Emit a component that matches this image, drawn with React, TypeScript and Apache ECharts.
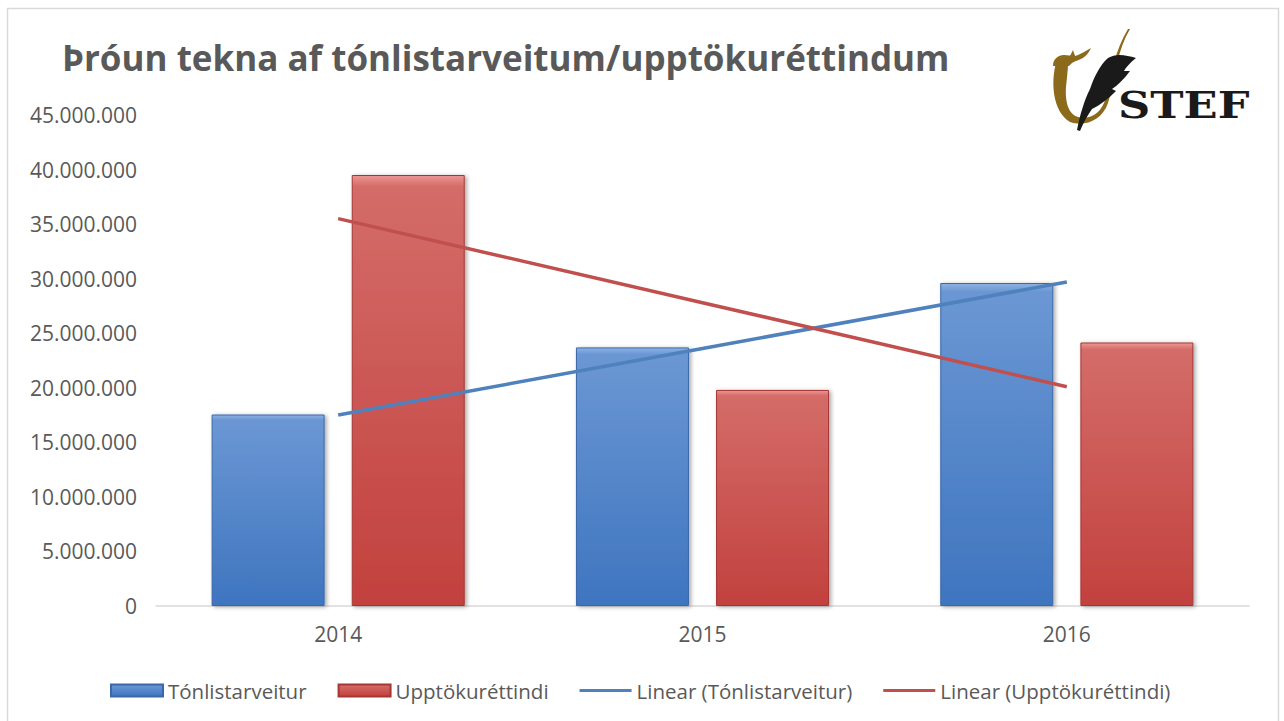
import React, { useEffect, useRef } from "react";
import * as echarts from "echarts";

const categories = ["2014", "2015", "2016"];
const tonlistarveitur = [17550000, 23700000, 29600000];
const upptokurettindi = [39500000, 19800000, 24150000];
const trendTonlist = [17500000, 23600000, 29700000];
const trendUpptoku = [35500000, 27800000, 20100000];
const seriesNames = [
  "Tónlistarveitur",
  "Upptökuréttindi",
  "Linear (Tónlistarveitur)",
  "Linear (Upptökuréttindi)",
];
const titleText = "Þróun tekna af tónlistarveitum/upptökuréttindum";

const FONT = "'Open Sans', 'Noto Sans', sans-serif";
const GRAY = "#595959";

function fmt(v: number): string {
  return String(v).replace(/\B(?=(\d{3})+(?!\d))/g, ".");
}

let registered = false;
function registerLogo() {
  if (registered) return;
  registered = true;
  echarts.graphic.registerShape(
    "stefU",
    echarts.graphic.extendPath(
      "M16 38 C11 56 12 86 30 97 C44 102 62 96 68 78 C72 66 74 52 77 38 C80 26 84 14 90 4 L88 4 C82 14 77 26 74 38 C71 52 69 66 64 78 C58 92 46 94 38 92 C28 89 25 76 26 62 C27 52 28 44 28 38 Z",
      {}
    )
  );
  echarts.graphic.registerShape(
    "stefHead",
    echarts.graphic.extendPath(
      "M13 41 C13 34 18 30 24 30 C30 30 34 32 38 30 C42 28 46 26 51 23 C49 28 45 32 41 34 C36 36 32 37 29 41 Z M30 31 L33 25 L35 31 Z",
      {}
    )
  );
  echarts.graphic.registerShape(
    "stefFeather",
    echarts.graphic.extendPath(
      "M37 105 C40 90 44 76 50 64 C54 52 60 40 68 33 C76 28 86 30 96 33 C90 38 86 42 84 46 L90 46 C84 54 78 60 72 64 L76 66 C68 74 60 80 52 84 C48 90 44 96 40 106 Z",
      {}
    )
  );
}

export default function App() {
  const ref = useRef<HTMLDivElement>(null);
  useEffect(() => {
    if (!ref.current) return;
    registerLogo();
    const chart = echarts.init(ref.current, null, { renderer: "svg" });
    const blueGrad = new echarts.graphic.LinearGradient(0, 0, 0, 1, [
      { offset: 0, color: "#8db2e3" },
      { offset: 0.025, color: "#6b97d4" },
      { offset: 1, color: "#3e75bf" },
    ]);
    const redGrad = new echarts.graphic.LinearGradient(0, 0, 0, 1, [
      { offset: 0, color: "#eb9794" },
      { offset: 0.025, color: "#d46c68" },
      { offset: 1, color: "#c2413e" },
    ]);
    chart.setOption({
      animation: false,
      backgroundColor: "#ffffff",
      title: {
        text: titleText,
        left: 57,
        top: 35,
        textStyle: {
          fontFamily: FONT,
          fontWeight: "bold",
          fontSize: 35,
          color: GRAY,
        },
      },
      grid: { left: 156, right: 35, top: 115, bottom: 115 },
      legend: {
        left: 105,
        bottom: 15,
        itemWidth: 52,
        itemHeight: 12,
        itemGap: 31,
        textStyle: { fontFamily: FONT, fontSize: 20.5, color: GRAY },
        data: [
          { name: seriesNames[0], icon: "rect" },
          { name: seriesNames[1], icon: "rect" },
          { name: seriesNames[2], icon: "path://M0,0H54V3H0Z" },
          { name: seriesNames[3], icon: "path://M0,0H54V3H0Z" },
        ],
      },
      xAxis: {
        type: "category",
        data: categories,
        axisTick: { show: false },
        axisLine: { lineStyle: { color: "#d9d9d9", width: 1.5 } },
        axisLabel: { margin: 17, fontFamily: FONT, fontSize: 21, color: GRAY },
      },
      yAxis: {
        type: "value",
        min: 0,
        max: 45000000,
        interval: 5000000,
        splitLine: { show: false },
        axisLine: { show: false },
        axisTick: { show: false },
        axisLabel: {
          margin: 19,
          fontFamily: FONT,
          fontSize: 21,
          color: GRAY,
          formatter: (v: number) => fmt(v),
        },
      },
      series: [
        {
          name: seriesNames[0],
          type: "bar",
          data: tonlistarveitur,
          barWidth: 113,
          barGap: "24%",
          itemStyle: {
            color: blueGrad,
            borderColor: "#3a67a8",
            borderWidth: 1,
            shadowBlur: 4,
            shadowOffsetX: 2,
            shadowOffsetY: 1,
            shadowColor: "rgba(0,0,0,0.35)",
          },
        },
        {
          name: seriesNames[1],
          type: "bar",
          data: upptokurettindi,
          barWidth: 113,
          barGap: "24%",
          itemStyle: {
            color: redGrad,
            borderColor: "#a63633",
            borderWidth: 1,
            shadowBlur: 4,
            shadowOffsetX: 2,
            shadowOffsetY: 1,
            shadowColor: "rgba(0,0,0,0.35)",
          },
        },
        {
          name: seriesNames[2],
          type: "line",
          data: trendTonlist,
          symbol: "none",
          z: 5,
          itemStyle: { color: "#4f81bd" },
          lineStyle: { color: "#4f81bd", width: 3.5 },
        },
        {
          name: seriesNames[3],
          type: "line",
          data: trendUpptoku,
          symbol: "none",
          z: 5,
          itemStyle: { color: "#c0504d" },
          lineStyle: { color: "#c0504d", width: 3.5 },
        },
      ],
      graphic: [
        {
          type: "rect",
          shape: { x: 7.5, y: 8.5, width: 1271, height: 730 },
          style: { fill: "none", stroke: "#d9d9d9", lineWidth: 1.5 },
          silent: true,
        },
        {
          type: "group",
          x: 1040,
          y: 25,
          children: [
            { type: "stefU", style: { fill: "#8c6a1c" } },
            { type: "stefHead", style: { fill: "#8c6a1c" } },
            { type: "stefFeather", style: { fill: "#1a1a1a" } },
            {
              type: "text",
              x: 78,
              y: 61,
              scaleX: 1.21,
              style: {
                text: "STEF",
                font: "bold 37px 'DejaVu Serif', serif",
                fill: "#1a1a1a",
              },
            },
          ],
        },
      ],
    });
    return () => chart.dispose();
  }, []);
  return (
    <div
      ref={ref}
      style={{ position: "absolute", left: 0, top: 0, width: 1284, height: 721 }}
    />
  );
}
